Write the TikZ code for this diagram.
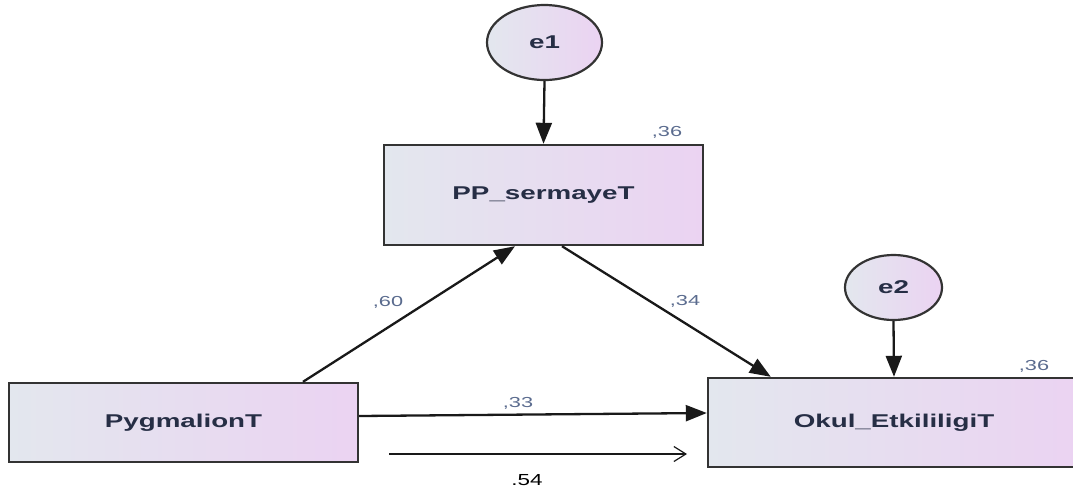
\documentclass[tikz,border=0pt]{standalone}
\usepackage{fontspec}
\setmainfont{Liberation Sans}
\usetikzlibrary{arrows.meta,shapes.geometric}
\definecolor{boxleft}{HTML}{E3E7EE}
\definecolor{boxright}{HTML}{EBD3F2}
\definecolor{edgegray}{HTML}{333333}
\definecolor{nametext}{HTML}{262E45}
\definecolor{coef}{HTML}{5A6B8E}
% horizontally widened lettering
\newcommand{\widetext}[2][1.5]{\scalebox{#1}[1]{#2}}
\begin{document}
\begin{tikzpicture}[x=1pt,y=-1pt,
  obs/.style={rectangle, draw=edgegray, line width=2.4pt,
    left color=boxleft, right color=boxright, inner sep=0pt,
    font=\fontsize{18.5}{20}\selectfont\bfseries, text=nametext},
  err/.style={ellipse, draw=edgegray, line width=2.2pt,
    left color=boxleft, right color=boxright, inner sep=0pt,
    font=\fontsize{18.5}{20}\selectfont\bfseries, text=nametext},
  regarrow/.style={line width=2.3pt, draw=black!90,
    -{Triangle[length=21pt,width=16pt]}},
  totalarrow/.style={line width=1.2pt, draw=black!90,
    -{Straight Barb[length=12pt,width=15pt]}},
  coeflbl/.style={font=\fontsize{14.5}{16}\selectfont, text=coef, inner sep=0pt},
  totallbl/.style={font=\fontsize{16}{18}\selectfont, text=black, inner sep=0pt},
]
\useasboundingbox (0,0) rectangle (1073,493);
\clip (0,0) rectangle (1073,493);

% observed variables
\node[obs, minimum width=349pt, minimum height=79pt] (pyg) at (183.5,422.5) {\widetext{PygmalionT}};
\node[obs, minimum width=319pt, minimum height=100pt] (pp) at (543.5,195) {\widetext{PP\_sermayeT}};
\node[obs, minimum width=372pt, minimum height=89pt] (okul) at (894,422.5) {\widetext{Okul\_EtkililigiT}};

% error terms
\node[err, minimum width=115pt, minimum height=75pt] (e1) at (544.5,42.5) {\widetext{e1}};
\node[err, minimum width=97pt, minimum height=65pt] (e2) at (893.5,287.5) {\widetext{e2}};

% regression paths
\draw[regarrow] (e1.south) -- (pp.north);
\draw[regarrow] (e2.south) -- (okul.north);
\draw[regarrow] ([xshift=119.5pt]pyg.north) -- ([xshift=-28.5pt]pp.south);
\draw[regarrow] ([xshift=18.5pt]pp.south) -- ([xshift=64pt]okul.north west);
\draw[regarrow] ([yshift=6.5pt]pyg.east) -- ([yshift=9.5pt]okul.west);

% total effect
\coordinate (totfrom) at (389,454);
\coordinate (totto) at (687,454);
\draw[totalarrow] (totfrom) -- (totto);

% coefficients
\node[coeflbl] (r2pp) at (667,132) {\widetext{,36}};
\node[coeflbl] (r2okul) at (1034,366) {\widetext{,36}};
\node[coeflbl] (b60) at (388,302) {\widetext{,60}};
\node[coeflbl] (b34) at (685,301) {\widetext{,34}};
\node[coeflbl] (b33) at (518,403) {\widetext{,33}};
\node[totallbl] (t54) at (527,480) {\widetext[1.4]{.54}};
\end{tikzpicture}
\end{document}
